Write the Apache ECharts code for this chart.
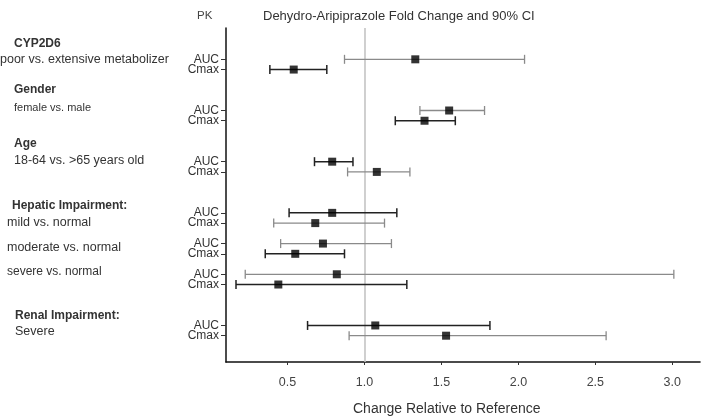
<!DOCTYPE html>
<html><head><meta charset="utf-8">
<script src="https://cdn.jsdelivr.net/npm/echarts@6/dist/echarts.min.js"></script>
<style>html,body{margin:0;padding:0;background:#fff}#c{width:701px;height:419px}</style>
</head><body><div id="c"></div>
<script>
// ---- data ----
const metrics  = ['AUC','Cmax','AUC','Cmax','AUC','Cmax','AUC','Cmax','AUC','Cmax','AUC','Cmax','AUC','Cmax'];
const rowSlot  = [0, 1, 5, 6, 10, 11, 15, 16, 18, 19, 21, 22, 26, 27]; // ordinal position of each row
const pointEst = [1.33, 0.54, 1.55, 1.39, 0.79, 1.08, 0.79, 0.68, 0.73, 0.55, 0.82, 0.44, 1.07, 1.53];
const ciLow    = [0.87, 0.385, 1.36, 1.20, 0.675, 0.89, 0.51, 0.41, 0.455, 0.355, 0.225, 0.165, 0.63, 0.90];
const ciHigh   = [2.04, 0.755, 1.78, 1.59, 0.925, 1.295, 1.21, 1.13, 1.175, 0.87, 3.01, 1.275, 1.815, 2.57];
const xTicks   = [0.5, 1.0, 1.5, 2.0, 2.5, 3.0];
const groupTitles = ['CYP2D6', 'Gender', 'Age', 'Hepatic Impairment:', 'Renal Impairment:'];
const comparisons = ['poor vs. extensive metabolizer', 'female vs. male', '18-64 vs. >65 years old',
                     'mild vs. normal', 'moderate vs. normal', 'severe vs. normal', 'Severe'];
const refValue = 1.0;

// ---- styles ----
const lineTone = ['g','k','g','k','k','g','k','g','g','k','g','k','k','g'];
const DARK = '#222', GRAY = '#8a8a8a';
const FONT = '"Liberation Sans", Arial, sans-serif';

const chart = echarts.init(document.getElementById('c'), null, {renderer: 'canvas'});

const barData = rowSlot.map((s, i) => [ciLow[i], ciHigh[i], s]);
const ptData = rowSlot.map((s, i) => [pointEst[i], s]);
const aucSlots = rowSlot.filter((s, i) => metrics[i] === 'AUC');
const cmaxSlots = rowSlot.filter((s, i) => metrics[i] === 'Cmax');
const labelOf = v => metrics[rowSlot.indexOf(Math.round(v))] || '';

function txt(text, x, y, size, bold, color) {
  return {
    type: 'text', x: x, y: y, silent: true,
    style: {text: text, font: (bold ? 'bold ' : '') + size + 'px ' + FONT, fill: color || '#333',
            textVerticalAlign: 'middle', verticalAlign: 'middle'}
  };
}

const yBase = {
  type: 'value', inverse: true, min: -3.06, max: 29.57, position: 'left',
  splitLine: {show: false}
};

chart.setOption({
  animation: false,
  backgroundColor: '#fff',
  grid: {left: 226, right: 1, top: 28, bottom: 57, containLabel: false},
  xAxis: {
    type: 'value', min: 0.1, max: 3.18,
    axisLine: {show: true, onZero: false, lineStyle: {color: '#111', width: 1.6}},
    axisTick: {show: true, length: 3, customValues: xTicks, lineStyle: {color: '#333'}},
    axisLabel: {customValues: xTicks, formatter: v => Number(v).toFixed(1), margin: 14,
                color: '#444', fontSize: 12.5, fontFamily: FONT},
    splitLine: {show: false}
  },
  yAxis: [
    Object.assign({}, yBase, {
      axisLine: {show: true, onZero: false, lineStyle: {color: '#111', width: 1.5}},
      axisTick: {show: true, length: 5, customValues: rowSlot, lineStyle: {color: '#333'}},
      axisLabel: {customValues: aucSlots, margin: 7, color: '#333', fontSize: 12, fontFamily: FONT,
                  showMinLabel: true, showMaxLabel: true, formatter: labelOf}
    }),
    Object.assign({}, yBase, {
      offset: 0,
      axisLine: {show: false, onZero: false},
      axisTick: {show: false},
      axisLabel: {customValues: cmaxSlots, margin: 7, color: '#333', fontSize: 12, fontFamily: FONT,
                  showMinLabel: true, showMaxLabel: true, formatter: labelOf}
    })
  ],
  series: [
    {
      type: 'custom', z: 3,
      data: barData,
      renderItem: function (params, api) {
        const y = api.value(2);
        const a = api.coord([api.value(0), y]);
        const b = api.coord([api.value(1), y]);
        const dark = lineTone[params.dataIndex] === 'k';
        const st = {stroke: dark ? DARK : GRAY, lineWidth: dark ? 1.5 : 1.3};
        const h = 4.5;
        return {type: 'group', children: [
          {type: 'line', shape: {x1: a[0], y1: a[1], x2: b[0], y2: b[1]}, style: st},
          {type: 'line', shape: {x1: a[0], y1: a[1] - h, x2: a[0], y2: a[1] + h}, style: st},
          {type: 'line', shape: {x1: b[0], y1: b[1] - h, x2: b[0], y2: b[1] + h}, style: st}
        ]};
      },
      markLine: {
        silent: true, symbol: ['none', 'none'], z: 1,
        label: {show: false},
        lineStyle: {color: '#c4c4c4', width: 1.6, type: 'solid'},
        data: [{xAxis: refValue}]
      }
    },
    {
      type: 'scatter', z: 4,
      symbol: 'rect', symbolSize: 8,
      itemStyle: {color: '#000'},
      data: ptData
    }
  ],
  graphic: [
    txt('PK', 197, 16, 11.5, false, '#444'),
    txt('Dehydro-Aripiprazole Fold Change and 90% CI', 263, 16, 13, false),
    txt('Change Relative to Reference', 353, 409, 14, false),
    txt(groupTitles[0], 14, 44, 12, true),
    txt(comparisons[0], 0, 60, 12.5, false),
    txt(groupTitles[1], 14, 90, 12, true),
    txt(comparisons[1], 14, 107.5, 11, false),
    txt(groupTitles[2], 14, 144, 12, true),
    txt(comparisons[2], 14, 161, 12.5, false),
    txt(groupTitles[3], 12, 205.5, 12, true),
    txt(comparisons[3], 7, 222.5, 12.5, false),
    txt(comparisons[4], 7, 248, 12.5, false),
    txt(comparisons[5], 7, 271.5, 12, false),
    txt(groupTitles[4], 15, 315.5, 12, true),
    txt(comparisons[6], 15, 331.5, 12.5, false)
  ]
});
</script></body></html>
